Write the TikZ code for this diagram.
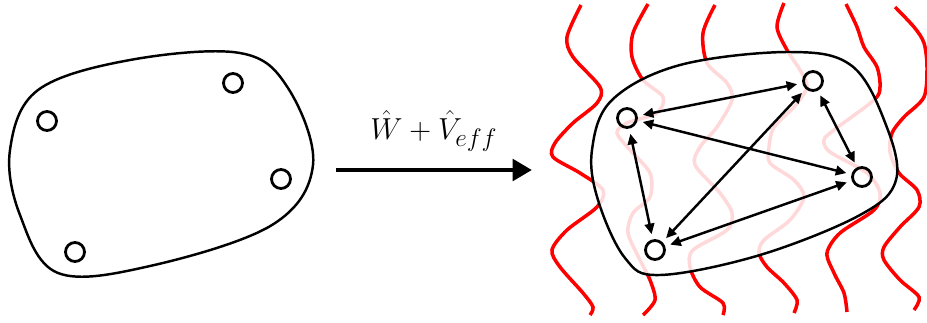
\documentclass[tikz,border=0pt]{standalone}
\usetikzlibrary{arrows.meta}

\tikzset{
  deeltje/.style={circle, draw, line width=1.6pt, minimum size=0.38cm, inner sep=0pt},
  wolk/.style={line width=1.4pt},
  golf/.style={red, line width=2pt},
  koppeling/.style={{Triangle[length=6pt,width=5.5pt]}-{Triangle[length=6pt,width=5.5pt]}, line width=1.4pt, shorten <=3pt, shorten >=3pt}
}

\begin{document}
\begin{tikzpicture}[x=0.02cm, y=-0.02cm]

  \useasboundingbox (0,0) rectangle (927,322);

  % Geisoleerd systeem
  \draw[wolk] plot[smooth cycle, tension=0.6] coordinates {(10,150) (38,90) (130,60) (240,53) (288,88)
      (313,165) (272,225) (150,266) (58,273) (20,215)};
  \node[deeltje] (a1) at (47,121) {};
  \node[deeltje] (a2) at (233,83) {};
  \node[deeltje] (a3) at (281,179) {};
  \node[deeltje] (a4) at (75,252) {};

  % Overgang
  \coordinate (van) at (336,170);
  \coordinate (naar) at (532,170);
  \draw[-{Triangle[length=11pt,width=12pt]}, line width=2.8pt] (van) -- (naar)
      node[midway, above=6pt] {\fontsize{19}{22}\selectfont $\hat{W} + \hat{V}_{eff}$};

  % Omgeving
  \draw[golf] plot[smooth] coordinates {(581,5) (567,37) (573,57) (600,87) (597,103) (573,123) (555,143)
      (553,157) (580,173) (603,190) (597,207) (567,230) (552,250) (560,267) (583,293) (593,307) (590,315)};
  \draw[golf] plot[smooth] coordinates {(648,4) (633,33) (632,57) (643,80) (663,97) (657,113) (627,123)
      (617,133) (630,150) (650,173) (650,197) (633,213) (628,233) (640,260) (650,280) (655,300) (643,315)};
  \draw[golf] plot[smooth] coordinates {(715,5) (703,33) (707,63) (727,83) (732,100) (717,127) (700,147)
      (695,165) (720,193) (732,213) (727,230) (693,250) (690,267) (700,287) (723,303) (723,315)};
  \draw[golf] plot[smooth] coordinates {(784,3) (777,27) (787,50) (800,70) (807,87) (794,107) (774,127)
      (769,147) (770,163) (794,180) (804,197) (790,220) (764,240) (759,253) (767,267) (784,283)
      (797,300) (794,313)};
  \draw[golf] plot[smooth] coordinates {(846,4) (857,27) (864,47) (877,67) (880,87) (874,100) (834,130)
      (824,140) (830,152) (867,173) (880,193) (874,210) (840,233) (827,253) (834,273) (844,293) (847,312)};
  \draw[golf] plot[smooth] coordinates {(895,7) (914,27) (924,43) (927,67) (924,97) (904,117) (892,133)
      (890,152) (899,173) (917,190) (919,207) (900,227) (884,247) (884,260) (900,280) (919,297) (914,310)};

  % Gekoppeld systeem
  \fill[white, opacity=0.85] plot[smooth cycle, tension=0.6] coordinates {(592,150) (612,100) (680,65)
      (790,52) (852,66) (886,125) (896,180) (860,215) (760,255) (660,275) (625,258) (598,200)};
  \draw[wolk] plot[smooth cycle, tension=0.6] coordinates {(592,150) (612,100) (680,65)
      (790,52) (852,66) (886,125) (896,180) (860,215) (760,255) (660,275) (625,258) (598,200)};
  \node[deeltje] (b1) at (627,118) {};
  \node[deeltje] (b2) at (813,81) {};
  \node[deeltje] (b3) at (862,177) {};
  \node[deeltje] (b4) at (655,250) {};

  % Wisselwerkingen
  \draw[koppeling] (b1) -- (b2);
  \draw[koppeling] (b1) -- (b3);
  \draw[koppeling] (b1) -- (b4);
  \draw[koppeling] (b2) -- (b3);
  \draw[koppeling] (b2) -- (b4);
  \draw[koppeling] (b3) -- (b4);

\end{tikzpicture}
\end{document}
